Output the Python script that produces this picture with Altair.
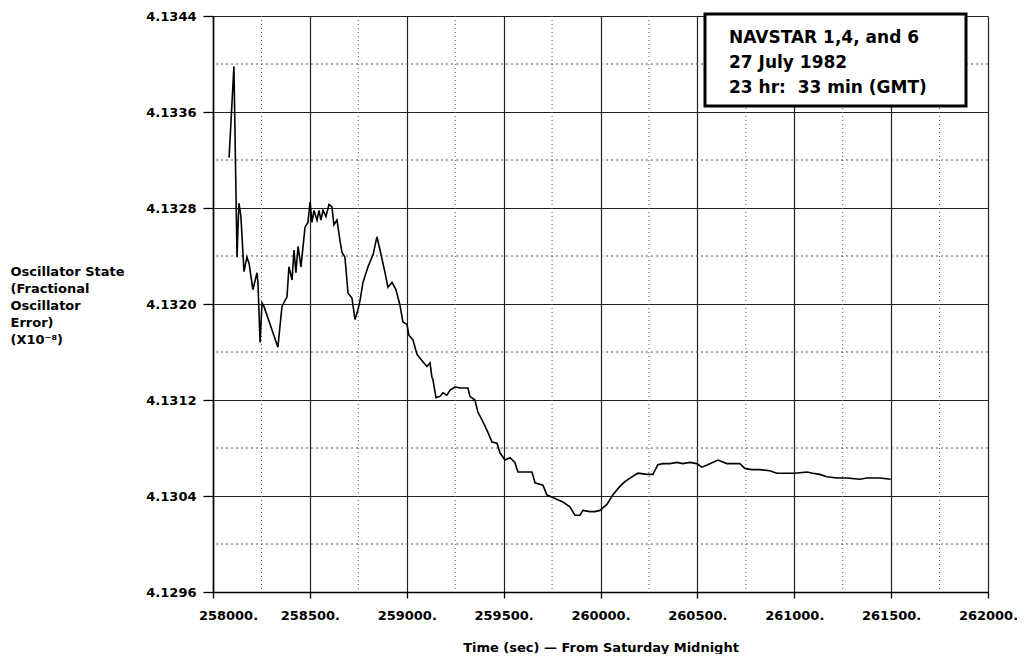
import altair as alt
import pandas as pd

# ---- data ----
time_sec = [258083, 258108, 258124, 258129, 258134, 258144, 258160, 258175, 258186, 258206,
            258227, 258232, 258243, 258253, 258263, 258335, 258356, 258382, 258392, 258408,
            258418, 258428, 258439, 258454, 258475, 258490, 258501, 258511, 258521, 258537,
            258547, 258557, 258568, 258583, 258599, 258614, 258624, 258640, 258655, 258666,
            258681, 258697, 258717, 258733, 258748, 258759, 258774, 258800, 258826, 258846,
            258862, 258888, 258903, 258924, 258944, 258965, 258980, 259001, 259011, 259032,
            259053, 259078, 259104, 259120, 259130, 259135, 259151, 259171, 259187, 259207,
            259223, 259249, 259275, 259316, 259326, 259352, 259367, 259393, 259419, 259440,
            259466, 259481, 259507, 259533, 259558, 259574, 259646, 259662, 259703, 259723,
            259765, 259806, 259842, 259868, 259894, 259909, 259945, 259971, 259997, 260033,
            260064, 260100, 260126, 260162, 260193, 260239, 260270, 260296, 260322, 260358,
            260394, 260425, 260461, 260497, 260523, 260554, 260606, 260652, 260719, 260745,
            260781, 260823, 260874, 260910, 260962, 261003, 261065, 261096, 261132, 261168,
            261220, 261271, 261339, 261375, 261442, 261498]
osc_state = [4.13322, 4.13398, 4.13239, 4.13264, 4.13284, 4.13273, 4.13227, 4.13239, 4.13234, 4.13212,
             4.13226, 4.13218, 4.13168, 4.13201, 4.13198, 4.13164, 4.13198, 4.13206, 4.13231, 4.13220,
             4.13245, 4.13226, 4.13248, 4.13231, 4.13264, 4.13268, 4.13285, 4.13268, 4.13278, 4.13270,
             4.13278, 4.13270, 4.13278, 4.13273, 4.13283, 4.13281, 4.13266, 4.13270, 4.13253, 4.13243,
             4.13239, 4.13209, 4.13205, 4.13187, 4.13195, 4.13203, 4.13218, 4.13231, 4.13241, 4.13256,
             4.13245, 4.13226, 4.13214, 4.13218, 4.13212, 4.13199, 4.13185, 4.13183, 4.13174, 4.13170,
             4.13158, 4.13153, 4.13148, 4.13151, 4.13139, 4.13137, 4.13122, 4.13123, 4.13126, 4.13124,
             4.13128, 4.13131, 4.13130, 4.13130, 4.13123, 4.13120, 4.13110, 4.13102, 4.13093, 4.13085,
             4.13084, 4.13076, 4.13070, 4.13072, 4.13068, 4.13060, 4.13060, 4.13051, 4.13049, 4.13041,
             4.13038, 4.13035, 4.13031, 4.13024, 4.13024, 4.13028, 4.13027, 4.13027, 4.13028, 4.13033,
             4.13041, 4.13048, 4.13052, 4.13056, 4.13059, 4.13058, 4.13058, 4.13066, 4.13067, 4.13067,
             4.13068, 4.13067, 4.13068, 4.13067, 4.13064, 4.13066, 4.13070, 4.13067, 4.13067, 4.13063,
             4.13062, 4.13062, 4.13061, 4.13059, 4.13059, 4.13059, 4.13060, 4.13059, 4.13058, 4.13056,
             4.13055, 4.13055, 4.13054, 4.13055, 4.13055, 4.13054]

x_major_ticks = [258000, 258500, 259000, 259500, 260000, 260500, 261000, 261500, 262000]
y_major_ticks = [4.1296, 4.1304, 4.1312, 4.1320, 4.1328, 4.1336, 4.1344]
x_minor_grid = [258250, 258750, 259250, 259750, 260250, 260750, 261250, 261750]
y_minor_grid = [4.1300, 4.1308, 4.1316, 4.1324, 4.1332, 4.1340]

box_lines = ["NAVSTAR 1,4, and 6", "27 July 1982", "23 hr:\u00a0\u00a033 min (GMT)"]
y_title_lines = ["Oscillator State", "(Fractional", "Oscillator", "Error)", "(X10\u207b\u2078)"]
x_title = "Time (sec) \u2014 From Saturday Midnight"

FONT = "DejaVu Sans"

df = pd.DataFrame({"t": time_sec, "v": osc_state})

xscale = alt.Scale(domain=[258000, 262000], nice=False, zero=False)
yscale = alt.Scale(domain=[4.1296, 4.1344], nice=False, zero=False)

line = alt.Chart(df).mark_line(color="black", strokeWidth=1.6).encode(
    x=alt.X("t:Q", scale=xscale,
            axis=alt.Axis(values=x_major_ticks, title=x_title,
                          labelExpr="format(datum.value, 'd') + '.'",
                          labelFont=FONT, labelFontSize=13, labelFontWeight="bold",
                          labelColor="black", labelPadding=11, labelOverlap=False,
                          labelBound=False, labelFlush=False,
                          labelOffset=alt.condition("datum.value == 258000", alt.value(15), alt.value(0)),
                          tickSize=6, tickColor="black", tickWidth=1.3,
                          domainColor="black", domainWidth=1.6,
                          grid=True, gridColor="#222222", gridWidth=1.2,
                          titleFont=FONT, titleFontSize=13, titleFontWeight="bold",
                          titleColor="black", titleBaseline="alphabetic", titleY=59)),
    y=alt.Y("v:Q", scale=yscale,
            axis=alt.Axis(values=y_major_ticks, format=".4f", title=y_title_lines,
                          labelFont=FONT, labelFontSize=13, labelFontWeight="bold",
                          labelColor="black", labelPadding=7, labelOverlap=False,
                          tickSize=10, tickColor="black", tickWidth=1.3,
                          domainColor="black", domainWidth=1.6,
                          grid=True, gridColor="#222222", gridWidth=1.2,
                          titleFont=FONT, titleFontSize=13, titleFontWeight="bold",
                          titleColor="black", titleAngle=0, titleAlign="left",
                          titleBaseline="alphabetic", titleX=-203, titleY=259,
                          titleLineHeight=17)),
)

vminor = alt.Chart(pd.DataFrame({"t": x_minor_grid})).mark_rule(
    color="#555555", strokeWidth=1, strokeDash=[1, 3]).encode(
    x=alt.X("t:Q", scale=xscale))
hminor = alt.Chart(pd.DataFrame({"v": y_minor_grid})).mark_rule(
    color="#555555", strokeWidth=1, strokeDash=[2, 3]).encode(
    y=alt.Y("v:Q", scale=yscale))

box = alt.Chart(pd.DataFrame({"a": [0]})).mark_rect(
    fill="white", stroke="black", strokeWidth=3).encode(
    x=alt.value(492), x2=alt.value(753), y=alt.value(-2), y2=alt.value(90))

box_text = alt.Chart(pd.DataFrame({"a": [0]})).mark_text(
    align="left", baseline="alphabetic", font=FONT, fontSize=17, fontWeight="bold",
    color="black", lineHeight=25).encode(
    x=alt.value(516), y=alt.value(27), text=alt.value(box_lines))

chart = alt.layer(hminor, vminor, line, box, box_text).properties(
    width=775, height=576,
    autosize=alt.AutoSizeParams(type="none"),
    padding={"left": 205, "top": 8, "right": 29, "bottom": 62},
).configure_view(stroke=None).configure(background="white")

chart.save("out.html", embed_options={"renderer": "svg", "actions": False})
